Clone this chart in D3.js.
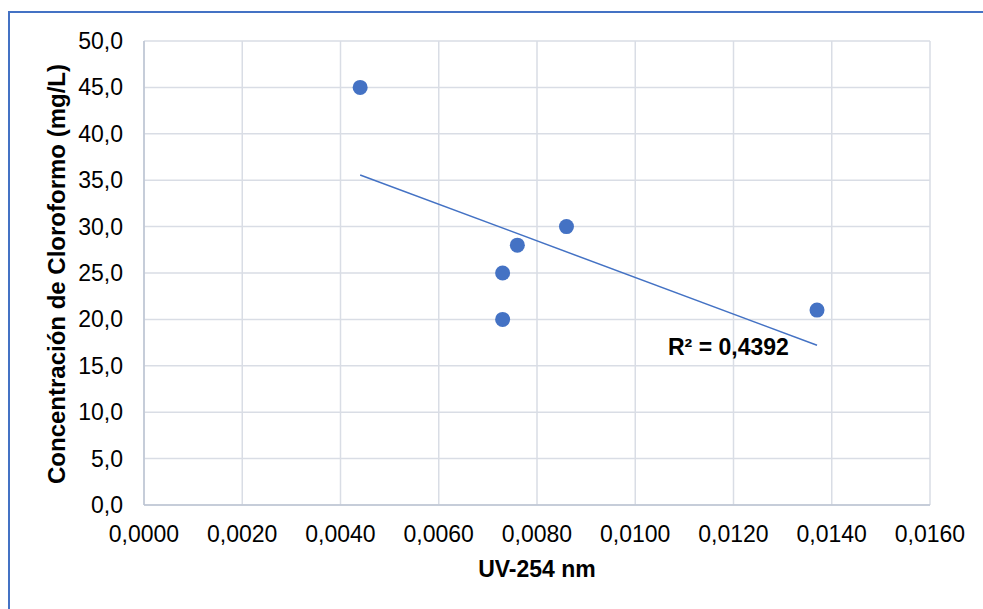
<!DOCTYPE html>
<html><head><meta charset="utf-8">
<script src="https://cdn.jsdelivr.net/npm/d3@7"></script>
<style>body{margin:0;background:#fff}svg{display:block}text{font-family:"Liberation Sans",Arial,sans-serif}</style>
</head><body>
<svg id="c" width="983" height="609"></svg>
<script>
const uvValues = [0.0044, 0.0073, 0.0073, 0.0076, 0.0086, 0.0137];
const cloroformo = [45, 25, 20, 28, 30, 21];
const xTicks = [0, 0.002, 0.004, 0.006, 0.008, 0.010, 0.012, 0.014, 0.016];
const yTicks = [0, 5, 10, 15, 20, 25, 30, 35, 40, 45, 50];
const xTitle = "UV-254 nm";
const yTitle = "Concentración de Cloroformo (mg/L)";

const svg = d3.select("#c");
svg.append("rect").attr("x",9).attr("y",12).attr("width",990).attr("height",620)
  .attr("fill","none").attr("stroke","#4472c4").attr("stroke-width",2);

const x = d3.scaleLinear().domain([0,0.016]).range([144,930]);
const y = d3.scaleLinear().domain([0,50]).range([505,41]);
const fmtX = v => d3.format(".4f")(v).replace(".",",");
const fmtY = v => d3.format(".1f")(v).replace(".",",");
const FS = 23;

// grid
svg.append("g").selectAll("line").data(yTicks).join("line")
  .attr("x1",x(0)).attr("x2",x(0.016)).attr("y1",d=>y(d)).attr("y2",d=>y(d))
  .attr("stroke","#d9dde5").attr("stroke-width",1.5);
svg.append("g").selectAll("line").data(xTicks).join("line")
  .attr("y1",y(0)).attr("y2",y(50)).attr("x1",d=>x(d)).attr("x2",d=>x(d))
  .attr("stroke","#d9dde5").attr("stroke-width",1.5);
// axis lines
svg.append("line").attr("x1",x(0)).attr("x2",x(0.016)).attr("y1",y(0)).attr("y2",y(0)).attr("stroke","#bcc4d3").attr("stroke-width",1.5);
svg.append("line").attr("x1",x(0)).attr("x2",x(0)).attr("y1",y(0)).attr("y2",y(50)).attr("stroke","#bcc4d3").attr("stroke-width",1.5);

// tick labels
svg.append("g").selectAll("text").data(yTicks).join("text")
  .attr("x",123).attr("y",d=>y(d)+8).attr("text-anchor","end")
  .attr("font-size",FS).attr("fill","#000").text(fmtY);
svg.append("g").selectAll("text").data(xTicks).join("text")
  .attr("x",d=>x(d)).attr("y",542).attr("text-anchor","middle")
  .attr("font-size",FS).attr("fill","#000").text(fmtX);

// titles
svg.append("text").attr("x",537).attr("y",577).attr("text-anchor","middle")
  .attr("font-size",FS).attr("font-weight","bold").text(xTitle);
svg.append("text").attr("transform","translate(65,274) rotate(-90)").attr("text-anchor","middle")
  .attr("font-size",24).attr("font-weight","bold").text(yTitle);

// regression
const n = uvValues.length;
const mx = d3.mean(uvValues), my = d3.mean(cloroformo);
let sxy=0,sxx=0,syy=0;
for(let i=0;i<n;i++){const dx=uvValues[i]-mx, dy=cloroformo[i]-my; sxy+=dx*dy; sxx+=dx*dx; syy+=dy*dy;}
const slope = sxy/sxx, icpt = my - slope*mx;
const r2 = sxy*sxy/(sxx*syy);
const x0 = d3.min(uvValues), x1 = d3.max(uvValues);
svg.append("line").attr("x1",x(x0)).attr("y1",y(icpt+slope*x0)).attr("x2",x(x1)).attr("y2",y(icpt+slope*x1))
  .attr("stroke","#4472c4").attr("stroke-width",1.5);

// points
svg.append("g").selectAll("circle").data(uvValues.map((v,i)=>[v,cloroformo[i]])).join("circle")
  .attr("cx",d=>x(d[0])).attr("cy",d=>y(d[1])).attr("r",7.5).attr("fill","#4472c4");

svg.append("text").attr("x",668).attr("y",355).attr("font-size",FS).attr("font-weight","bold")
  .text("R² = " + r2.toFixed(4).replace(".",","));
</script>
</body></html>
